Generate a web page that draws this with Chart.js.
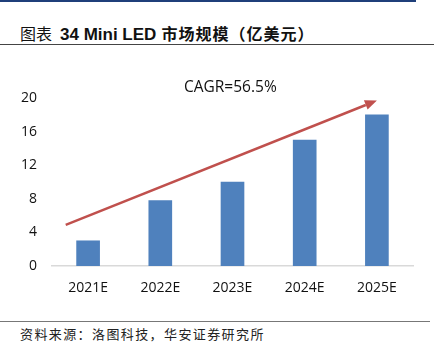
<!DOCTYPE html>
<html>
<head>
<meta charset="utf-8">
<script src="https://cdn.jsdelivr.net/npm/chart.js@4/dist/chart.umd.min.js"></script>
<style>
  html, body { margin:0; padding:0; background:#fff; }
  body { width:436px; height:351px; position:relative; overflow:hidden; }
  #topline { position:absolute; left:0; top:0; width:416px; height:2px; background:#1F3F7A; }
  #title { position:absolute; left:20px; top:21px; font:bold 16px "Noto Sans CJK SC", sans-serif; color:#111; white-space:nowrap; letter-spacing:1px; line-height:24px; }
  #title .cn1 { font-weight:normal; letter-spacing:0; margin-right:8px; }
  #title .en { font-family:"Liberation Sans", Arial, sans-serif; font-size:17px; letter-spacing:0; margin-right:5px; }
  #titleline { position:absolute; left:0; top:44px; width:434px; height:1px; background:#444; }
  #wrap { position:absolute; left:0; top:60px; width:436px; height:246px; }
  #footline { position:absolute; left:0; top:321px; width:430px; height:1px; background:#777; }
  #foot { position:absolute; left:20px; top:324px; font:13px "Noto Sans CJK SC", sans-serif; color:#222; white-space:nowrap; letter-spacing:1.4px; }
</style>
</head>
<body>
<div id="topline"></div>
<div id="title"><span class="cn1">图表</span><span class="en">34 Mini LED</span>市场规模（亿美元）</div>
<div id="titleline"></div>
<div id="wrap"><canvas id="market"></canvas></div>
<div id="footline"></div>
<div id="foot">资料来源：洛图科技，华安证券研究所</div>
<script>
// 数据
let years = ['2021E', '2022E', '2023E', '2024E', '2025E'];
let marketSize = [3, 7.8, 10, 15, 18];
let yTicks = [0, 4, 8, 12, 16, 20];
let cagrText = 'CAGR=56.5%';
// arrow from/to in (category index, value)
let arrowFrom = [-0.31, 4.9];
let arrowTo = [4.0, 19.7];
let labelAt = [1.97, 21.2];

let arrowPlugin = {
    id:'arrow',
    afterDatasetsDraw(chart){
        let c = chart.ctx;
        let xs = chart.scales.x, ys = chart.scales.y;
        let x1 = xs.getPixelForValue(arrowFrom[0]), y1 = ys.getPixelForValue(arrowFrom[1]);
        let x2 = xs.getPixelForValue(arrowTo[0]), y2 = ys.getPixelForValue(arrowTo[1]);
        let ang = Math.atan2(y2 - y1, x2 - x1);
        let head = 12, half = 5;
        c.save();
        c.strokeStyle = '#C0504D';
        c.fillStyle = '#C0504D';
        c.lineWidth = 2.5;
        c.beginPath();
        c.moveTo(x1, y1);
        c.lineTo(x2 - head * Math.cos(ang), y2 - head * Math.sin(ang));
        c.stroke();
        c.beginPath();
        c.moveTo(x2, y2);
        c.lineTo(x2 - head * Math.cos(ang) + half * Math.sin(ang), y2 - head * Math.sin(ang) - half * Math.cos(ang));
        c.lineTo(x2 - head * Math.cos(ang) - half * Math.sin(ang), y2 - head * Math.sin(ang) + half * Math.cos(ang));
        c.closePath();
        c.fill();
        // CAGR label
        c.fillStyle = '#111';
        c.font = '15.5px "Open Sans", sans-serif';
        c.textAlign = 'center';
        c.textBaseline = 'middle';
        c.fillText(cagrText, xs.getPixelForValue(labelAt[0]), ys.getPixelForValue(labelAt[1]));
        c.restore();
    }
};

let ctx = document.getElementById('market');
let marketChart = new Chart(ctx, {
    type:'bar',
    data:{
        labels:years,
        datasets:[{
            label:'市场规模',
            data:marketSize,
            backgroundColor:'#4F81BD',
            barThickness:23
        }]
    },
    options:{
        responsive:true,
        maintainAspectRatio:false,
        animation:false,
        layout:{ padding:{ top:38, right:23, left:0, bottom:0 } },
        plugins:{
            legend:{ display:false },
            tooltip:{ enabled:false }
        },
        scales:{
            x:{
                grid:{ display:false, drawTicks:false },
                border:{ display:true, color:'#D9D9D9', width:1.5 },
                ticks:{ color:'#111', font:{ family:'"Open Sans", sans-serif', size:14 }, padding:14 },
                afterFit(scale){ scale.height = 40; }
            },
            y:{
                min:0, max:20,
                grid:{ display:false, drawTicks:false },
                border:{ display:false },
                afterBuildTicks(scale){ scale.ticks = yTicks.map(v => ({ value:v })); },
                ticks:{ color:'#111', font:{ family:'"Open Sans", sans-serif', size:14 }, padding:15 },
                afterFit(scale){ scale.width = 52; }
            }
        }
    },
    plugins:[arrowPlugin]
});
</script>
</body>
</html>
